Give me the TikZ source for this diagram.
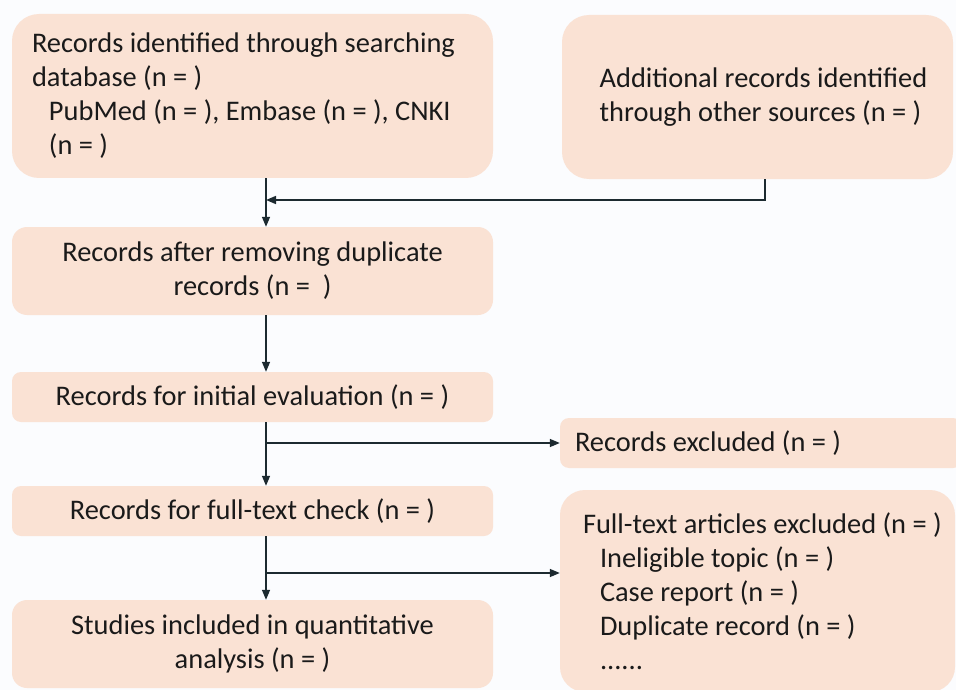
\documentclass[tikz,border=0pt]{standalone}
\usepackage{fontspec}
\setmainfont{Carlito}
\usetikzlibrary{arrows.meta}
\definecolor{boxfill}{HTML}{FAE2D4}
\definecolor{bgcol}{HTML}{FBFCFE}
\definecolor{linecol}{HTML}{1C2A30}
\definecolor{txtcol}{HTML}{1A1A1A}
\tikzset{
  box/.style={rectangle, fill=boxfill, draw=none, inner ysep=0pt, text=txtcol,
    font=\fontsize{28.4}{34}\selectfont},
  conn/.style={draw=linecol, line width=1.5pt},
  arr/.style={conn, -{Triangle[length=10pt,width=8pt]}},
}
\begin{document}
\begin{tikzpicture}[x=1pt,y=-1pt]
\useasboundingbox (0,0) rectangle (956,690);
\fill[bgcol] (0,0) rectangle (956,690);

\node[box, rounded corners=27pt, minimum width=481pt, minimum height=164pt,
  inner xsep=20pt, text width=441pt, align=flush left] (b1) at (252.5,96)
  {Records identified through searching\\database (n = )\\\hspace*{17pt}PubMed (n = ), Embase (n = ), CNKI\\\hspace*{17pt}(n = )};
\node[box, rounded corners=27pt, minimum width=391pt, minimum height=164pt,
  align=flush left] (b2) at (757.5,97)
  {\hspace*{12pt}Additional records identified\\\hspace*{12pt}through other sources (n = )};
\node[box, rounded corners=15pt, minimum width=481pt, minimum height=88pt,
  align=center] (b3) at (252.5,271)
  {Records after removing duplicate\\records (n =~~)};
\node[box, rounded corners=9pt, minimum width=481pt, minimum height=50pt,
  align=center] (b4) at (252.5,397)
  {Records for initial evaluation (n = )};
\node[box, rounded corners=9pt, minimum width=402pt, minimum height=50pt,
  inner xsep=15pt, text width=372pt, align=flush left] (b6) at (761,443)
  {Records excluded (n = )};
\node[box, rounded corners=9pt, minimum width=481pt, minimum height=50pt,
  align=center] (b5) at (252.5,511)
  {Records for full-text check (n = )};
\node[box, rounded corners=25pt, minimum width=395pt, minimum height=202pt,
  inner xsep=23pt, text width=349pt, align=flush left] (b8) at (757.5,591)
  {\makebox[0pt][l]{Full-text articles excluded (n = )}\\\hspace*{17pt}Ineligible topic (n = )\\\hspace*{17pt}Case report (n = )\\\hspace*{17pt}Duplicate record (n = )\\\hspace*{17pt}......};
\node[box, rounded corners=15pt, minimum width=481pt, minimum height=88pt,
  align=center] (b7) at (252.5,644)
  {Studies included in quantitative\\analysis (n = )};

\coordinate (j1) at (266,200);
\coordinate (j2) at (266,443);
\coordinate (j3) at (266,573);

\draw[arr] (b1.south -| j1) -- (b3.north -| j1);
\draw[arr] (b2.south -| 765,0) |- (j1);
\draw[arr] (b3.south -| j1) -- (b4.north -| j1);
\draw[arr] (b4.south -| j2) -- (b5.north -| j2);
\draw[arr] (j2) -- (b6.west);
\draw[arr] (b5.south -| j3) -- (b7.north -| j3);
\draw[arr] (j3) -- (b8.west |- j3);
\end{tikzpicture}
\end{document}
